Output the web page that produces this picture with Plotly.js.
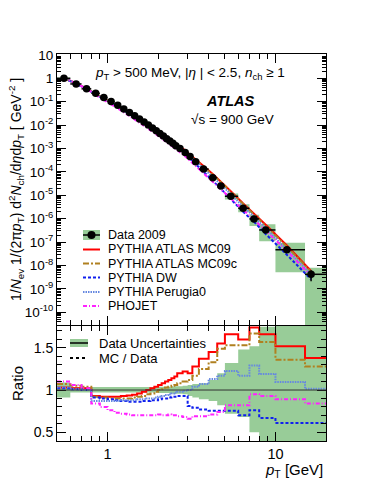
<!DOCTYPE html>
<html>
<head>
<meta charset="utf-8">
<script src="https://cdn.plot.ly/plotly-3.0.1.min.js"></script>
<style>
  html, body { margin: 0; padding: 0; background: #fff; }
  #chart { width: 374px; height: 484px; }
</style>
</head>
<body>
<div id="chart"></div>
<script>
// pT bin edges [GeV]
const binEdges = [0.5, 0.6, 0.7, 0.8, 0.9, 1.0, 1.1, 1.2, 1.3, 1.4, 1.5, 1.6, 1.7, 1.8, 1.9, 2.0,
  2.1, 2.2, 2.3, 2.4, 2.5, 2.6, 2.8, 3.0, 3.2, 3.5, 4.0, 4.5, 5.0, 6.0, 7.0, 8.0, 10.0, 15.0, 20.0];
// mean pT in each bin (where the data points sit)
const ptMean = [0.55, 0.65, 0.75, 0.85, 0.95, 1.05, 1.15, 1.25, 1.35, 1.45, 1.55, 1.65, 1.75, 1.85, 1.95,
  2.05, 2.15, 2.25, 2.35, 2.45, 2.55, 2.7, 2.9, 3.1, 3.35, 3.73, 4.23, 4.73, 5.42, 6.42, 7.45, 8.75, 11.7, 16.3];
// 1/Nev 1/(2 pi pT) d2N/deta dpT  [GeV^-2]
const dataYield = [1.0, 0.575, 0.355, 0.229, 0.151, 0.102, 0.0708, 0.049, 0.0347, 0.0251,
  0.0182, 0.0135, 0.0100, 0.00759, 0.00575, 0.00437, 0.00339, 0.00263, 0.00209, 0.00166,
  0.00132, 0.0010, 6.8e-4, 4.5e-4, 2.75e-4, 1.32e-4, 5.6e-5, 2.5e-5, 9.1e-6, 2.8e-6,
  9.8e-7, 3.3e-7, 4.7e-8, 4.2e-9];
// relative statistical error (vertical bars)
const statErr = [0.005, 0.005, 0.005, 0.005, 0.005, 0.005, 0.005, 0.005, 0.005, 0.005,
  0.005, 0.005, 0.005, 0.005, 0.005, 0.005, 0.005, 0.005, 0.005, 0.005,
  0.005, 0.005, 0.005, 0.005, 0.005, 0.005, 0.01, 0.015, 0.02, 0.04,
  0.06, 0.1, 0.2, 0.5];
// total data uncertainty band, as ratio to data (lower / upper edge)
const uncLo = [0.91, 0.97, 0.97, 0.97, 0.97, 0.97, 0.97, 0.97, 0.97, 0.97,
  0.97, 0.97, 0.97, 0.97, 0.97, 0.965, 0.965, 0.965, 0.965, 0.955,
  0.955, 0.955, 0.95, 0.93, 0.91, 0.89, 0.87, 0.82, 0.72, 0.68,
  0.5, 0.33, 0.11, 0.001];
const uncHi = [1.09, 1.035, 1.035, 1.035, 1.035, 1.035, 1.035, 1.035, 1.035, 1.035,
  1.035, 1.035, 1.035, 1.035, 1.035, 1.04, 1.04, 1.04, 1.04, 1.045,
  1.045, 1.045, 1.05, 1.06, 1.07, 1.08, 1.12, 1.2, 1.32, 1.48,
  1.52, 1.75, 2.0, 1.9];

// MC / Data ratios per bin
const ratioMC09 = [1.03, 1.02, 1.02, 0.93, 0.92, 0.92, 0.92, 0.93, 0.935, 0.945,
  0.96, 0.98, 1.0, 1.02, 1.04, 1.06, 1.08, 1.10, 1.12, 1.14,
  1.16, 1.20, 1.22, 1.20, 1.28, 1.37, 1.45, 1.55, 1.66, 1.60,
  1.74, 1.66, 1.52, 1.38];
const ratioMC09c = [1.07, 1.05, 1.04, 0.92, 0.91, 0.90, 0.90, 0.90, 0.90, 0.91,
  0.92, 0.93, 0.95, 0.96, 0.98, 1.0, 1.01, 1.03, 1.04, 1.05,
  1.06, 1.08, 1.10, 1.12, 1.17, 1.25, 1.33, 1.49, 1.53, 1.53,
  1.67, 1.57, 1.36, 1.28];
const ratioDW = [1.02, 1.01, 1.0, 0.91, 0.90, 0.89, 0.88, 0.87, 0.86, 0.86,
  0.86, 0.87, 0.87, 0.88, 0.88, 0.89, 0.90, 0.90, 0.91, 0.92,
  0.92, 0.93, 0.93, 0.81, 0.79, 0.77, 0.755, 0.755, 0.755, 0.70,
  0.76, 0.67, 0.61, 0.61];
const ratioPerugia0 = [1.03, 1.01, 1.0, 0.87, 0.87, 0.87, 0.87, 0.88, 0.88, 0.88,
  0.89, 0.89, 0.90, 0.90, 0.91, 0.92, 0.93, 0.94, 0.95, 0.96,
  0.97, 0.98, 0.99, 1.0, 1.04, 1.07, 1.13, 1.17, 1.225, 1.17,
  1.29, 1.19, 1.095, 1.015];
const ratioPhojet = [1.10, 1.06, 1.02, 0.84, 0.80, 0.76, 0.73, 0.72, 0.71, 0.70,
  0.70, 0.70, 0.70, 0.70, 0.70, 0.71, 0.70, 0.70, 0.71, 0.70,
  0.70, 0.69, 0.68, 0.66, 0.69, 0.69, 0.71, 0.74, 0.82, 0.82,
  0.95, 0.93, 0.89, 0.84];

const mcNames = ['PYTHIA ATLAS MC09', 'PYTHIA ATLAS MC09c', 'PYTHIA DW', 'PYTHIA Perugia0', 'PHOJET'];
const mcRatios = [ratioMC09, ratioMC09c, ratioDW, ratioPerugia0, ratioPhojet];

// y-axis decades shown on the spectrum panel
const yDecades = [1, 0, -1, -2, -3, -4, -5, -6, -7, -8, -9, -10];

// styles
const FONT = 'Liberation Sans, Arial, Helvetica, sans-serif';
const GREEN = 'rgb(152,204,152)';
const mcStyles = [
  { color: '#ff0000', dash: 'solid', width: 2 },
  { color: '#b08020', dash: '6px,2px,2px,2px', width: 2 },
  { color: '#1020ee', dash: '3px,2px', width: 2 },
  { color: '#6688e0', dash: '1.5px,1px', width: 2 },
  { color: '#ff22ff', dash: '4px,2px,1px,2px', width: 2 }
];

const step = arr => arr.concat([arr[arr.length - 1]]);

const traces = [];

// --- upper panel: data uncertainty boxes
const boxX = [], boxY = [];
dataYield.forEach((v, i) => {
  const x0 = binEdges[i], x1 = binEdges[i + 1];
  const y0 = v * uncLo[i], y1 = v * uncHi[i];
  boxX.push(x0, x1, x1, x0, x0, null);
  boxY.push(y0, y0, y1, y1, y0, null);
});
traces.push({
  x: boxX, y: boxY, xaxis: 'x2', yaxis: 'y', mode: 'lines', fill: 'toself',
  fillcolor: GREEN, line: { width: 0 }, hoverinfo: 'skip', showlegend: false
});

// --- upper panel: MC predictions
mcRatios.forEach((r, k) => {
  traces.push({
    x: ptMean, y: dataYield.map((v, i) => v * r[i]),
    xaxis: 'x2', yaxis: 'y', mode: 'lines', name: mcNames[k],
    line: { color: mcStyles[k].color, dash: mcStyles[k].dash, width: mcStyles[k].width },
    showlegend: false
  });
});

// --- upper panel: data points
traces.push({
  x: ptMean, y: dataYield, xaxis: 'x2', yaxis: 'y', mode: 'markers', name: 'Data 2009',
  marker: { color: '#000', size: 7.5 },
  error_x: {
    type: 'data', symmetric: false,
    array: ptMean.map((p, i) => binEdges[i + 1] - p),
    arrayminus: ptMean.map((p, i) => p - binEdges[i]),
    color: '#000', thickness: 1.5, width: 0
  },
  error_y: {
    type: 'data', array: dataYield.map((v, i) => v * statErr[i]),
    color: '#000', thickness: 1.5, width: 0
  },
  showlegend: false
});

// --- ratio panel: data uncertainty band
traces.push({
  x: binEdges, y: step(uncLo), xaxis: 'x', yaxis: 'y2', mode: 'lines',
  line: { width: 0, shape: 'hv' }, hoverinfo: 'skip', showlegend: false
});
traces.push({
  x: binEdges, y: step(uncHi), xaxis: 'x', yaxis: 'y2', mode: 'lines', fill: 'tonexty',
  fillcolor: GREEN, line: { width: 0, shape: 'hv' }, hoverinfo: 'skip', showlegend: false
});

// --- ratio panel: MC / Data
mcRatios.forEach((r, k) => {
  traces.push({
    x: binEdges, y: step(r), xaxis: 'x', yaxis: 'y2', mode: 'lines', name: mcNames[k],
    line: { color: mcStyles[k].color, dash: mcStyles[k].dash, width: mcStyles[k].width, shape: 'hv' },
    showlegend: false
  });
});

// tick helpers
const xMinor = [0.6, 0.7, 0.8, 0.9, 2, 3, 4, 5, 6, 7, 8, 9, 20];
const yMinor = [];
for (let d = -11; d <= 1; d++) {
  for (let k = 2; k <= 9; k++) yMinor.push(k * Math.pow(10, d));
}
const yTickVals = yDecades.map(d => Math.pow(10, d));
const yTickText = yDecades.map(d => d === 1 ? '10' : d === 0 ? '1' : '10<sup>-' + (-d) + '</sup>');

const axisBase = {
  showline: true, linecolor: '#000', linewidth: 1, mirror: 'ticks',
  ticks: 'inside', tickcolor: '#000', tickwidth: 1, showgrid: false, zeroline: false,
  tickfont: { family: FONT, size: 14, color: '#000' }
};
const xRange = [Math.log10(0.5), Math.log10(20)];

// helpers for placing legend / text in paper coords from pixel positions
const L = 57, R = 48, T = 54, B = 43, W = 374, H = 484;
const px = v => (v - L) / (W - L - R);
const py = v => (H - B - v) / (H - T - B);

const annotations = [];
const shapes = [];
const txt = (text, x, y, size, extra) => annotations.push(Object.assign({
  text, x: px(x), y: py(y), xref: 'paper', yref: 'paper', showarrow: false,
  xanchor: 'left', yanchor: 'middle', font: { family: FONT, size, color: '#000' }
}, extra || {}));

// upper panel texts
txt('<i>p</i><sub>T</sub> > 500 MeV, |<i>η</i> | < 2.5, <i>n</i><sub>ch</sub> ≥ 1', 190, 73, 13.5, { xanchor: 'center' });
txt('<b><i>ATLAS</i></b>', 230, 101, 14.5, { xanchor: 'center' });
txt('√s = 900 GeV', 232, 119, 13.5, { xanchor: 'center' });

// axis titles
txt('1/<i>N</i><sub>ev</sub> 1/(2π<i>p</i><sub>T</sub>) d<sup>2</sup><i>N</i><sub>ch</sub>/d<i>η</i>d<i>p</i><sub>T</sub> [ GeV<sup>-2</sup> ]',
  16, 190, 14, { xanchor: 'center', textangle: -90 });
txt('Ratio', 17, 384, 15, { xanchor: 'center', textangle: -90 });
txt('<i>p</i><sub>T</sub> [GeV]', 325, 471, 15, { xanchor: 'right' });

// upper legend
const legRows = [249.5, 263.5, 277.5, 292, 306];
shapes.push({ type: 'rect', xref: 'paper', yref: 'paper', x0: px(83), x1: px(100), y0: py(240), y1: py(230),
  fillcolor: GREEN, line: { width: 0 } });
shapes.push({ type: 'line', xref: 'paper', yref: 'paper', x0: px(83), x1: px(100), y0: py(235), y1: py(235),
  line: { color: '#000', width: 1.5 } });
shapes.push({ type: 'circle', xref: 'paper', yref: 'paper', xsizemode: 'pixel', ysizemode: 'pixel',
  xanchor: px(91.5), yanchor: py(235), x0: -4, x1: 4, y0: -4, y1: 4, fillcolor: '#000', line: { width: 0 } });
txt('Data 2009', 106, 235, 12.5);
mcNames.forEach((n, k) => {
  shapes.push({ type: 'line', xref: 'paper', yref: 'paper', x0: px(83), x1: px(100), y0: py(legRows[k]), y1: py(legRows[k]),
    line: { color: mcStyles[k].color, dash: mcStyles[k].dash, width: mcStyles[k].width } });
  txt(n, 106, legRows[k], 12.5);
});

// ratio legend
shapes.push({ type: 'rect', xref: 'paper', yref: 'paper', x0: px(70), x1: px(88), y0: py(347), y1: py(339),
  fillcolor: GREEN, line: { width: 0 } });
shapes.push({ type: 'line', xref: 'paper', yref: 'paper', x0: px(70), x1: px(88), y0: py(343), y1: py(343),
  line: { color: '#000', width: 1.5 } });
txt('Data Uncertainties', 97, 343, 13);
shapes.push({ type: 'line', xref: 'paper', yref: 'paper', x0: px(70), x1: px(88), y0: py(358), y1: py(358),
  line: { color: '#000', dash: 'dot', width: 2 } });
txt('MC / Data', 97, 358, 13);

// ratio = 1 reference line
shapes.push({ type: 'line', xref: 'paper', yref: 'y2', x0: 0, x1: 1, y0: 1, y1: 1,
  line: { color: '#333', width: 1 }, layer: 'above' });

const layout = {
  width: W, height: H,
  margin: { l: L, r: R, t: T, b: B },
  paper_bgcolor: '#fff', plot_bgcolor: '#fff',
  showlegend: false,
  font: { family: FONT, color: '#000' },
  xaxis: Object.assign({}, axisBase, {
    type: 'log', range: xRange, domain: [0, 1], anchor: 'y2',
    tickmode: 'array', tickvals: [1, 10], ticktext: ['1', '10'], ticklen: 9,
    tickfont: { family: FONT, size: 14.5, color: '#000' },
    minor: { tickmode: 'array', tickvals: xMinor, ticks: 'inside', ticklen: 5, tickcolor: '#000' }
  }),
  xaxis2: Object.assign({}, axisBase, {
    type: 'log', range: xRange, domain: [0, 1], anchor: 'y', matches: 'x',
    tickmode: 'array', tickvals: [1, 10], ticklen: 9, showticklabels: false,
    minor: { tickmode: 'array', tickvals: xMinor, ticks: 'inside', ticklen: 5, tickcolor: '#000' }
  }),
  yaxis: Object.assign({}, axisBase, {
    type: 'log', range: [-10.54, 1.04], domain: [0.3, 1], anchor: 'x2',
    tickmode: 'array', tickvals: yTickVals, ticktext: yTickText, ticklen: 9,
    tickfont: { family: FONT, size: 13.5, color: '#000' },
    minor: { tickmode: 'array', tickvals: yMinor, ticks: 'inside', ticklen: 4, tickcolor: '#000' }
  }),
  yaxis2: Object.assign({}, axisBase, {
    range: [0.396, 1.758], domain: [0, 0.297], anchor: 'x',
    tickmode: 'linear', tick0: 0.5, dtick: 0.5, ticklen: 9,
    minor: { tickmode: 'linear', tick0: 0, dtick: 0.1, ticks: 'inside', ticklen: 5, tickcolor: '#000' }
  }),
  annotations, shapes
};

Plotly.newPlot('chart', traces, layout, { staticPlot: true, displayModeBar: false });
</script>
</body>
</html>
